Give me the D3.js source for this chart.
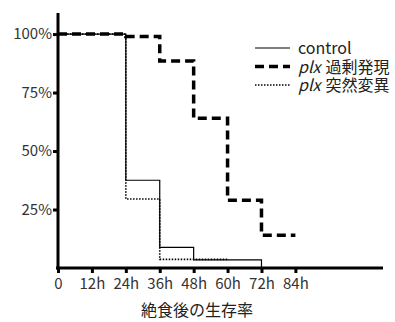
<!DOCTYPE html>
<html>
<head>
<meta charset="utf-8">
<script src="https://cdn.jsdelivr.net/npm/d3@7"></script>
<style>
  body { margin: 0; background: #fff; }
  svg { display: block; font-family: "Noto Sans CJK JP", "Noto Sans", sans-serif; }
</style>
</head>
<body>
<div id="chart"></div>
<script>
// hours after starvation, survival %
const controlHours = [0, 24, 36, 48, 72]
const controlValues = [100, 37.5, 8.8, 3.5, 0]
const overHours = [0, 24, 36, 48, 60, 72, 84]
const overValues = [100, 99, 88.5, 64, 29, 14, 14]
const mutHours = [0, 24, 36, 60]
const mutValues = [100, 29.5, 3.7, 3.7]

const xTicks = [0, 12, 24, 36, 48, 60, 72, 84]
const yTicks = [25, 50, 75, 100]
const legendLabels = [['', 'control'], ['plx', '過剰発現'], ['plx', '突然変異']]
const xTitle = '絶食後の生存率'

const width = 395, height = 322

const svg = d3.select('#chart').append('svg')
  .attr('width', width)
  .attr('height', height)

const x = d3.scaleLinear().domain([0, 115]).range([58, 383])
const y = d3.scaleLinear().domain([0, 109]).range([268, 13])

const xAxis = svg.append('g')
  .attr('transform', 'translate(0,' + y(0) + ')')
  .call(d3.axisBottom(x).tickValues(xTicks).tickSize(5).tickPadding(5)
    .tickFormat(d => d === 0 ? '0' : d + 'h'))

const yAxis = svg.append('g')
  .attr('transform', 'translate(' + x(0) + ',0)')
  .call(d3.axisLeft(y).tickValues(yTicks).tickSize(5).tickPadding(1)
    .tickFormat(d => d + '%'))

;[xAxis, yAxis].forEach(a => {
  a.select('.domain').attr('stroke', '#000').attr('stroke-width', 3)
  a.selectAll('.tick line').attr('stroke', '#000').attr('stroke-width', 3)
  a.selectAll('.tick text')
    .attr('fill', '#333')
    .style('font-size', '15px')
    .style('font-family', '"Noto Sans CJK JP", sans-serif')
})
xAxis.select('.domain').attr('d', 'M' + (x(0) - 2) + ',0H' + x(115))
yAxis.select('.domain').attr('d', 'M0,' + y(109) + 'V' + (y(0) + 1.5))

const line = d3.line()
  .x(d => x(d[0]))
  .y(d => y(d[1]))
  .curve(d3.curveStepAfter)

const series = [
  { hours: controlHours, values: controlValues, width: 1.2, dash: null },
  { hours: mutHours, values: mutValues, width: 1.6, dash: '1.5,1.5' },
  { hours: overHours, values: overValues, width: 3.5, dash: '9,5' }
]

series.forEach(s => {
  svg.append('path')
    .datum(s.hours.map((h, i) => [h, s.values[i]]))
    .attr('d', line)
    .attr('fill', 'none')
    .attr('stroke', '#000')
    .attr('stroke-width', s.width)
    .attr('stroke-dasharray', s.dash)
})

// legend
const legendStyles = [series[0], series[2], series[1]]
const legend = svg.append('g').attr('transform', 'translate(255,48)')
legendLabels.forEach((lab, i) => {
  const g = legend.append('g').attr('transform', 'translate(0,' + (i * 18.5) + ')')
  g.append('line')
    .attr('x1', 0).attr('x2', 35)
    .attr('stroke', '#000')
    .attr('stroke-width', legendStyles[i].width)
    .attr('stroke-dasharray', legendStyles[i].dash)
  const t = g.append('text')
    .attr('x', 43).attr('y', 6)
    .attr('fill', '#222')
    .style('font-size', '16px')
  if (lab[0]) {
    t.append('tspan').style('font-style', 'italic').text(lab[0])
    t.append('tspan').attr('dx', 5).text(lab[1])
  } else {
    t.append('tspan').text(lab[1])
  }
})

svg.append('text')
  .attr('x', 197).attr('y', 316)
  .attr('text-anchor', 'middle')
  .attr('fill', '#222')
  .style('font-size', '16px')
  .text(xTitle)
</script>
</body>
</html>
